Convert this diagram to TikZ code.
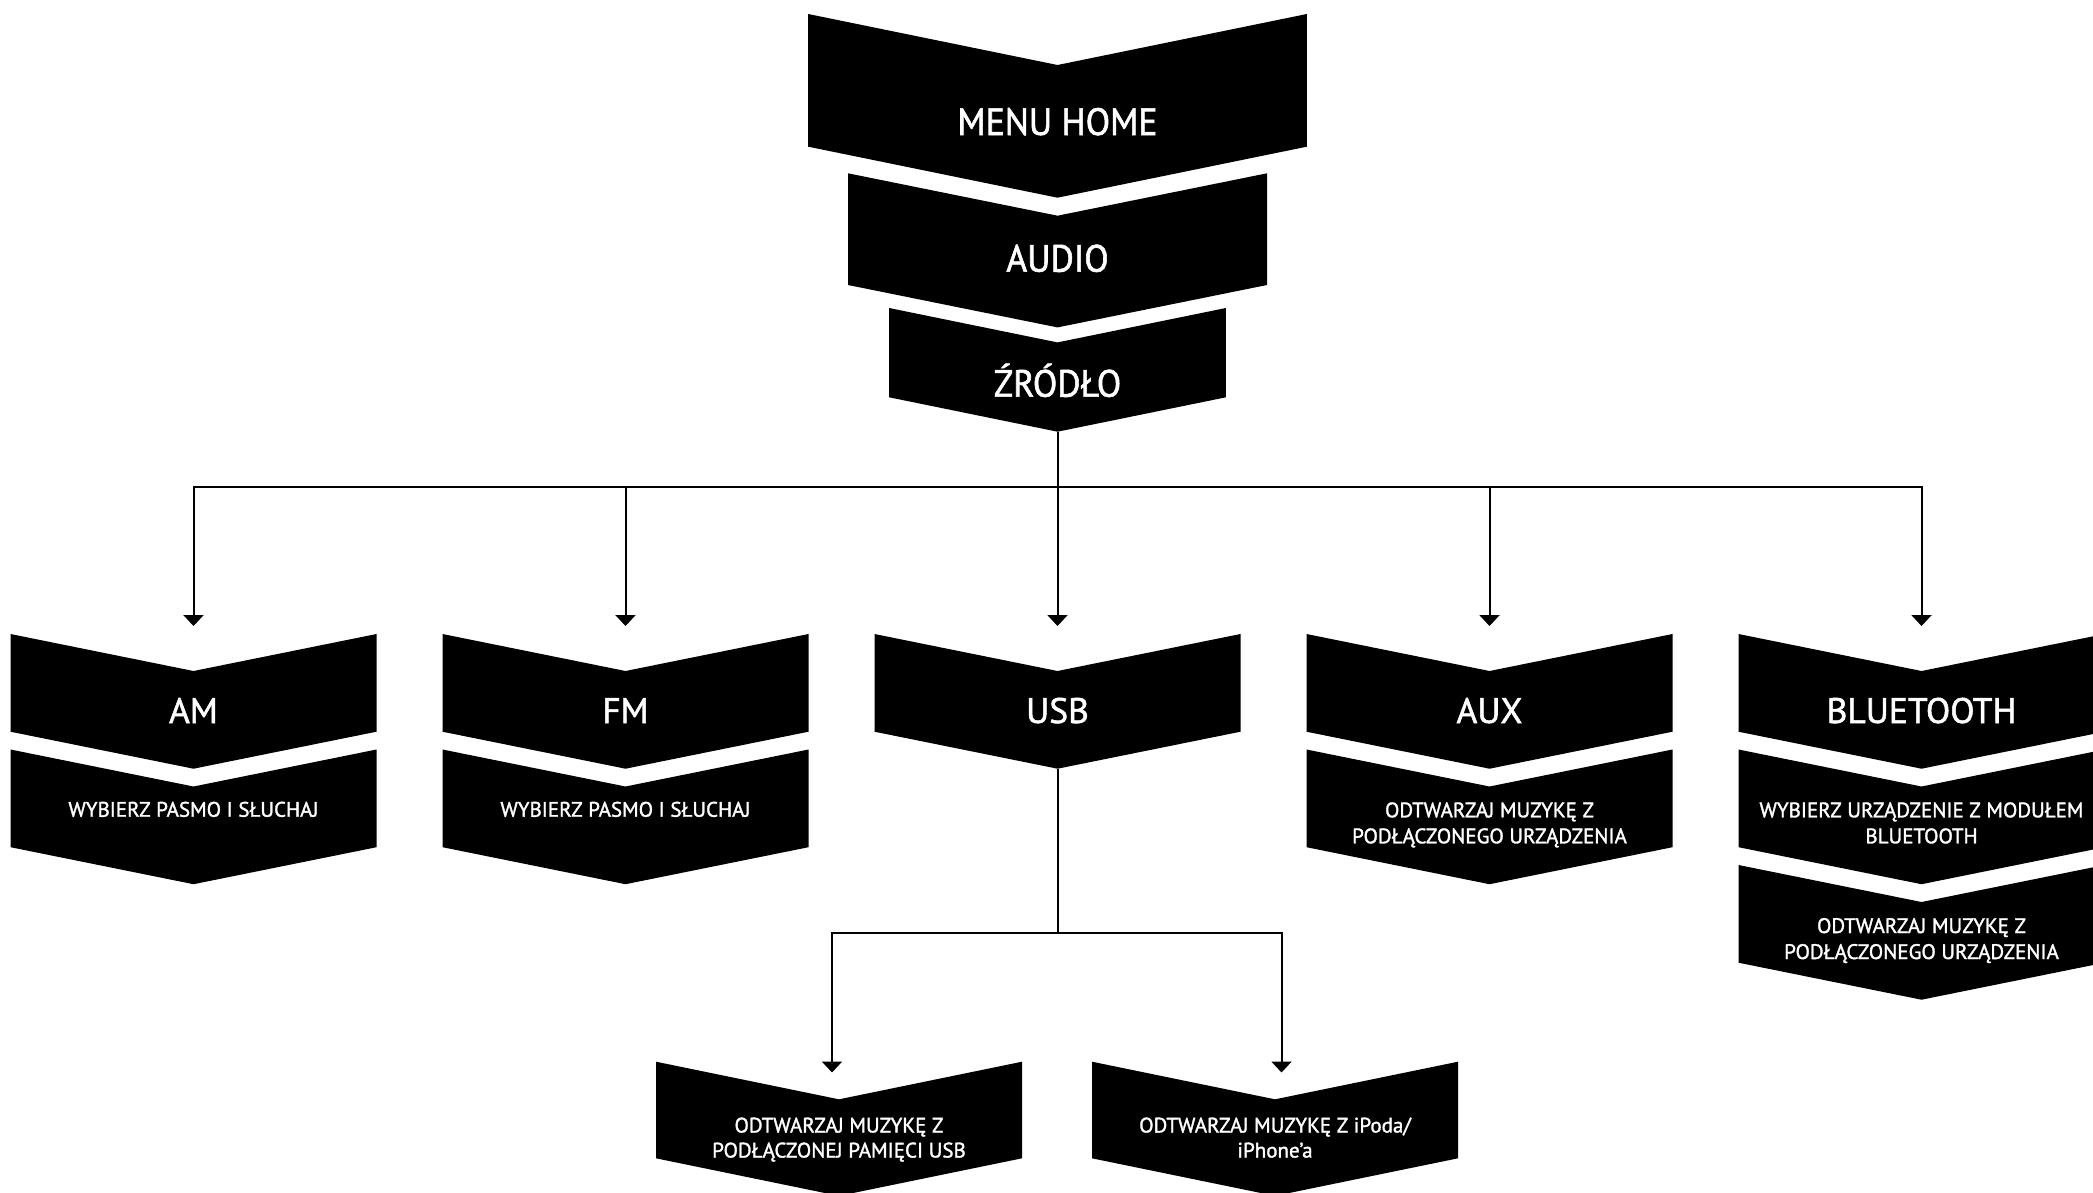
\documentclass[tikz,border=0pt]{standalone}
\usepackage{fontspec}
\setmainfont{PT Sans}[FakeBold=1.5]
\newfontfamily\topfont{PT Sans}[FakeStretch=0.94,FakeBold=1.5]
\usetikzlibrary{arrows.meta}
\newcommand\chevshape[6]{% name, cx, top, halfwidth, side height, depth
  \fill[chev] (#2-#4,#3) -- (#2,#3+#6) -- (#2+#4,#3) -- (#2+#4,#3+#5) -- (#2,#3+#5+#6) -- (#2-#4,#3+#5) -- cycle;
  \coordinate (#1-top) at (#2,#3);
  \coordinate (#1-bot) at (#2,#3+#5+#6);
}
\newcommand\twoln[3][26pt]{\vtop{\baselineskip=#1\halign{\hfil##\hfil\cr#2\cr#3\cr}}}
\begin{document}
\begin{tikzpicture}[x=1pt,y=-1pt,
  chev/.style={fill=black},
  txt/.style={text=white, inner sep=0pt, anchor=base},
  bigtxt/.style={txt, font=\topfont\fontsize{38}{40}\selectfont},
  ttltxt/.style={txt, font=\fontsize{35.5}{38}\selectfont},
  smalltxt/.style={txt, font=\fontsize{21}{26}\selectfont},
  conn/.style={draw=black, line width=2pt},
  arr/.style={conn, -{Triangle[width=20pt,length=11pt]}}]
\clip (0,0) rectangle (2093,1192);
\fill[white] (0,0) rectangle (2093,1192);

% top stack
\chevshape{menu}{1057.5}{14}{249.3}{132.7}{51}
\chevshape{audio}{1057.5}{173.3}{209.5}{111.7}{42.4}
\chevshape{zr}{1057.5}{308}{168.4}{89.3}{34.4}
\node[bigtxt] (tmenu) at (1057.5,135) {MENU HOME};
\node[bigtxt] (taudio) at (1057.5,271.7) {AUDIO};
\node[bigtxt] (tzr) at (1057.5,396.7) {ŹRÓDŁO};

% columns: row A
\chevshape{am}{193.5}{634}{183}{97.7}{37}
\chevshape{fm}{625.5}{634}{183}{97.7}{37}
\chevshape{usb}{1057.5}{634}{183}{97.7}{37}
\chevshape{aux}{1489.5}{634}{183}{97.7}{37}
\chevshape{bt}{1921.5}{634}{183}{97.7}{37}
\node[ttltxt] (tam) at (193.5,723) {AM};
\node[ttltxt] (tfm) at (625.5,723) {FM};
\node[ttltxt] (tusb) at (1057.5,723) {USB};
\node[ttltxt] (taux) at (1489.5,723) {AUX};
\node[ttltxt] (tbt) at (1921.5,723) {BLUETOOTH};

% row B
\chevshape{amb}{193.5}{749.5}{183}{97.7}{37}
\chevshape{fmb}{625.5}{749.5}{183}{97.7}{37}
\chevshape{auxb}{1489.5}{749.5}{183}{97.7}{37}
\chevshape{btb}{1921.5}{749.5}{183}{97.7}{37}
\node[smalltxt] (tamb) at (193.5,816.7) {WYBIERZ PASMO I SŁUCHAJ};
\node[smalltxt] (tfmb) at (625.5,816.7) {WYBIERZ PASMO I SŁUCHAJ};
\node[smalltxt] (tauxb) at (1489.5,817.3) {\twoln{ODTWARZAJ MUZYKĘ Z}{PODŁĄCZONEGO URZĄDZENIA}};
\node[smalltxt] (tbtb) at (1921.5,817.3) {\twoln{WYBIERZ URZĄDZENIE Z MODUŁEM}{BLUETOOTH}};

% row C
\chevshape{btc}{1921.5}{865}{183}{97.7}{37}
\node[smalltxt] (tbtc) at (1921.5,933) {\twoln{ODTWARZAJ MUZYKĘ Z}{PODŁĄCZONEGO URZĄDZENIA}};

% USB sub boxes
\chevshape{s1}{839}{1061.7}{183}{96.6}{37.6}
\chevshape{s2}{1275}{1061.7}{183}{96.6}{37.6}
\node[smalltxt] (ts1) at (839,1132.5) {\twoln[25pt]{ODTWARZAJ MUZYKĘ Z}{PODŁĄCZONEJ PAMIĘCI USB}};
\node[smalltxt] (ts2) at (1275,1132.5) {\twoln[25pt]{ODTWARZAJ MUZYKĘ Z iPoda/}{iPhone’a}};

% connectors
\coordinate (bus) at (1057.5,487.3);
\coordinate (am-arr) at (193.5,626);
\coordinate (fm-arr) at (625.5,626);
\coordinate (usb-arr) at (1057.5,626);
\coordinate (aux-arr) at (1489.5,626);
\coordinate (bt-arr) at (1921.5,626);
\draw[conn] (zr-bot) -- (bus);
\draw[arr] (bus) -| (am-arr);
\draw[arr] (bus) -| (fm-arr);
\draw[arr] (bus) -- (usb-arr);
\draw[arr] (bus) -| (aux-arr);
\draw[arr] (bus) -| (bt-arr);

\coordinate (ub) at (1057.5,933.3);
\coordinate (s1-arr) at (832,1072.5);
\coordinate (s2-arr) at (1281.5,1072.5);
\draw[conn] (usb-bot) -- (ub);
\draw[arr] (ub) -| (s1-arr);
\draw[arr] (ub) -| (s2-arr);
\end{tikzpicture}
\end{document}
